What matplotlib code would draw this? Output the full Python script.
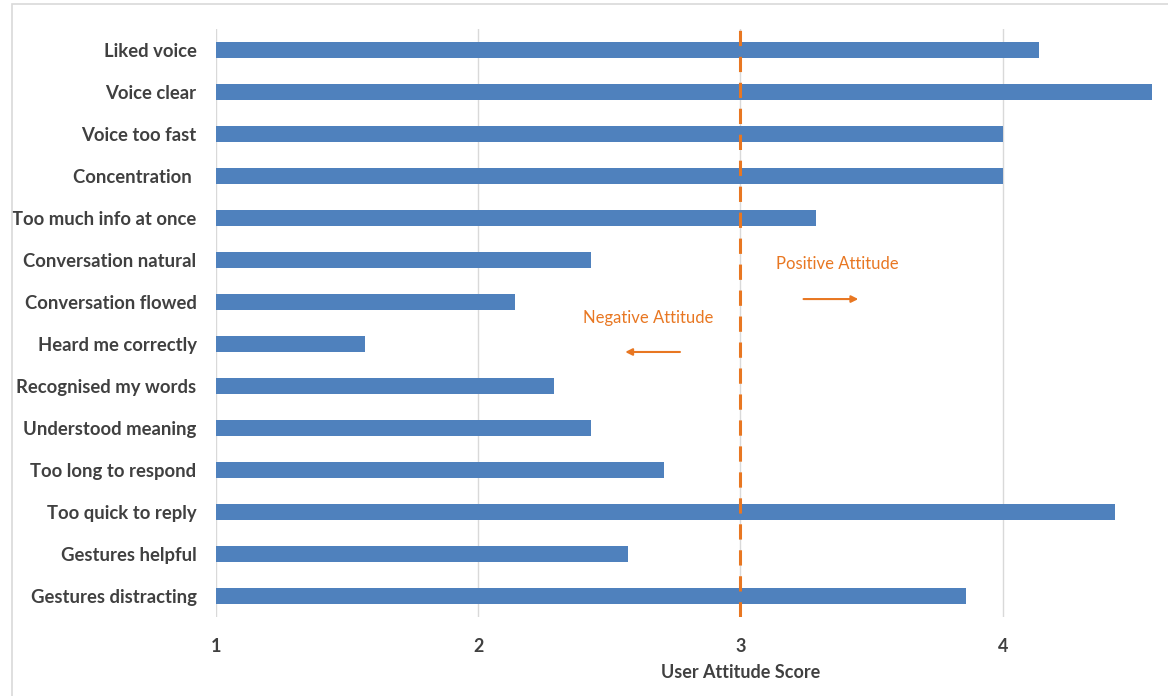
import matplotlib.pyplot as plt
from matplotlib.patches import Rectangle

categories = ["Liked voice", "Voice clear", "Voice too fast", "Concentration ",
              "Too much info at once", "Conversation natural", "Conversation flowed",
              "Heard me correctly", "Recognised my words", "Understood meaning",
              "Too long to respond", "Too quick to reply", "Gestures helpful",
              "Gestures distracting"]
scores = [4.14, 4.57, 4.0, 4.0, 3.29, 2.43, 2.14, 1.57, 2.29, 2.43, 2.71, 4.43, 2.57, 3.86]
xticks = [1, 2, 3, 4]
neutral = 3

plt.rcParams['font.family'] = ['Lato', 'DejaVu Sans']
grey = '#404040'
orange = '#E87722'
blue = '#4F81BD'

fig = plt.figure(figsize=(11.68, 6.96), dpi=100)
W, H = 1168, 696
ax = fig.add_axes([216 / W, 1 - 617 / H, (1160 - 216) / W, 588 / H])

# frame around the chart
fig.patches.append(Rectangle((12 / W, -0.05), 1.1, 1 - 4 / H + 0.05, transform=fig.transFigure,
                             fill=False, edgecolor='#d9d9d9', linewidth=1.2))

ypos = list(range(len(categories)))
ax.barh(ypos, scores, left=0, height=0.36, color=blue, zorder=2)
ax.set_xlim(1, 4.6)
ax.set_ylim(13.5, -0.5)

ax.set_yticks(ypos)
ax.set_yticklabels(categories, fontsize=13.3, fontweight='bold', color=grey)
ax.set_xticks(xticks)
ax.set_xticklabels([str(t) for t in xticks], fontsize=13, fontweight='bold', color=grey)
ax.tick_params(axis='y', length=0, pad=14)
ax.tick_params(axis='x', length=0, pad=15)

for s in ax.spines.values():
    s.set_visible(False)
ax.grid(axis='x', color='#d9d9d9', linewidth=1, zorder=0)

ax.axvline(neutral, color=orange, linestyle=(0, (5, 3.5)), linewidth=2.2, zorder=3)

ax.text(3.37, 5.1, "Positive Attitude", color=orange, fontsize=12, ha='center', va='center')
ax.annotate("", xy=(3.46, 5.93), xytext=(3.23, 5.93),
            arrowprops=dict(arrowstyle='-|>', color=orange, lw=1.5, mutation_scale=10))
ax.text(2.65, 6.38, "Negative Attitude", color=orange, fontsize=12, ha='center', va='center')
ax.annotate("", xy=(2.55, 7.19), xytext=(2.78, 7.19),
            arrowprops=dict(arrowstyle='-|>', color=orange, lw=1.5, mutation_scale=10))

ax.set_xlabel("User Attitude Score", fontsize=13, fontweight='bold', color=grey)
ax.xaxis.set_label_coords((neutral - 1) / 3.6, -0.08)

fig.savefig('out.png', dpi=100)
